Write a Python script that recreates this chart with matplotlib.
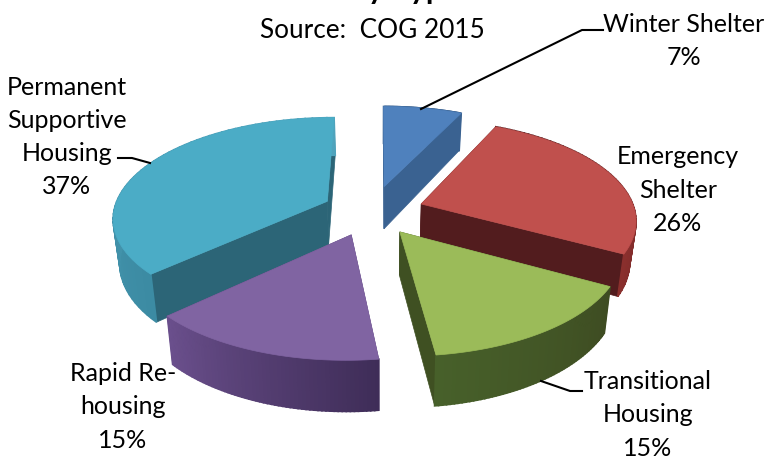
# %%
# Exploded 3D-look pie, drawn as projected polygons since matplotlib has no 3D pie
import numpy as np
import matplotlib
matplotlib.use("Agg")
import matplotlib.pyplot as plt
from matplotlib.colors import to_rgb

plt.rcParams["font.family"] = ["Lato", "DejaVu Sans"]

# %%
# Data
categories = ["Winter Shelter", "Emergency\nShelter", "Transitional\nHousing",
              "Rapid Re-\nhousing", "Permanent\nSupportive\nHousing"]
shares = [7, 26, 15, 15, 37]

# %%
# Style of every slice
top_colors = ["#4f81bd", "#c0504d", "#9bbb59", "#8064a2", "#4bacc6"]
face_colors = ["#3a6291", "#521c1e", "#3f5022", "#5c447c", "#2c6577"]
rim_start = ["#3a6291", "#521c1e", "#3e4c22", "#3f2d58", "#3c8ba3"]
rim_end = ["#3a6291", "#8a2f2d", "#47602a", "#6a4f8c", "#4fa3bc"]
explode = [(0.02, -0.296), (0.195, -0.112), (0.09, 0.165), (-0.13, 0.193), (-0.25, -0.14)]
depth = [44, 40, 42, 42, 44]
draw_order = [0, 4, 1, 3, 2]

label_xy = [(684, 41), (678, 190), (648, 415), (123, 407), (67, 137)]
leaders = [([421, 582, 603], [109, 30, 30]), None, ([541, 570, 582], [381, 391, 391]),
           None, ([150, 132, 118], [163, 158, 158])]

CX, CY = 380, 215
A, B = 215, 100
PERSP = 0.15


def project(x, s):
    w = 1 / (1 - PERSP * s)
    return CX + A * x * w, CY + B * s * w, w


def lower(px, py, w, d):
    # bottom edge of the slab, slightly pulled towards the vanishing point
    return CX + (px - CX) * 0.975, py + d * w


fig = plt.figure(figsize=(7.66, 4.58), dpi=100)
ax = fig.add_axes([0, 0, 1, 1])
ax.set_xlim(0, 766)
ax.set_ylim(458, 0)
ax.axis("off")

# %%
# Slice angles, clockwise from 12 o'clock
edges = 90 - 3.6 * np.cumsum([0] + shares)

for i in draw_order:
    t = np.radians(np.linspace(edges[i], edges[i + 1], 60))
    ox, os_ = explode[i]
    px, py, w = project(ox + np.cos(t), os_ - np.sin(t))
    ax_, ay_, aw = project(ox, os_)
    bx, by = lower(px, py, w, depth[i])
    abx, aby = lower(ax_, ay_, aw, depth[i])

    # radial side faces
    for k in (0, -1):
        ax.fill([ax_, px[k], bx[k], abx], [ay_, py[k], by[k], aby],
                color=face_colors[i], lw=0.5)

    # outer rim with a gradient along the arc
    c0, c1 = np.array(to_rgb(rim_start[i])), np.array(to_rgb(rim_end[i]))
    for k in range(len(t) - 1):
        c = c0 + (c1 - c0) * k / (len(t) - 2)
        ax.fill([px[k], px[k + 1], bx[k + 1], bx[k]], [py[k], py[k + 1], by[k + 1], by[k]],
                color=c, lw=1.2)

    # top face
    ax.fill(np.r_[ax_, px], np.r_[ay_, py], color=top_colors[i], lw=0.5)

# %%
# Labels and leader lines
for i, name in enumerate(categories):
    ax.text(label_xy[i][0], label_xy[i][1], f"{name}\n{shares[i]}%", ha="center", va="center",
            fontsize=18, linespacing=1.53, color="black", zorder=10)
    if leaders[i] is not None:
        ax.plot(leaders[i][0], leaders[i][1], color="black", lw=1.5, zorder=9)

ax.text(372, 31, "Source:  COG 2015", ha="center", va="center", fontsize=18.8, color="black")
ax.text(368, -1, "Beds by Type", ha="center", va="baseline", fontsize=22, fontweight="bold",
        color="black", clip_on=False)

fig.savefig("out.png", dpi=100)
